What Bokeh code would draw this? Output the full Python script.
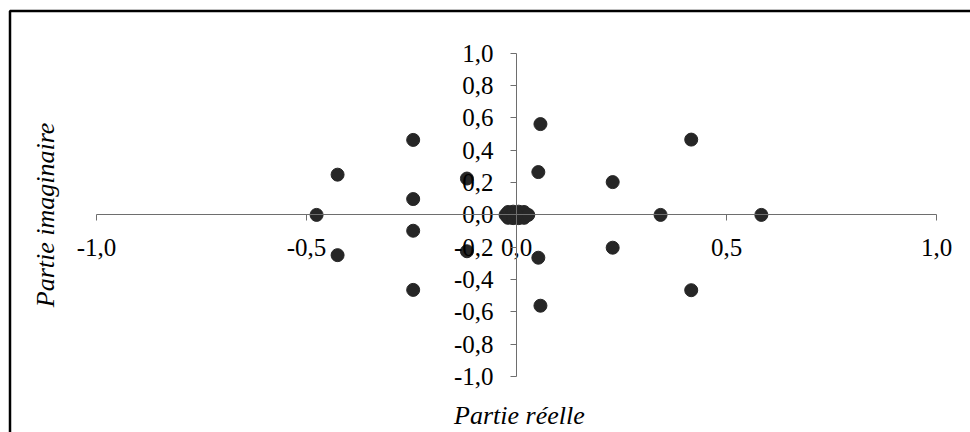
from bokeh.plotting import figure
from bokeh.models import (Range1d, FixedTicker, Label, PolyAnnotation,
                          ColumnDataSource)
from bokeh.core.properties import value
from bokeh.embed import file_html
from bokeh.resources import INLINE

# ---- data ----
real = [-0.476, -0.426, -0.426, -0.246, -0.246, -0.246, -0.246, -0.118, -0.118,
        0.057, 0.052, 0.052, 0.057, 0.229, 0.229, 0.343, 0.416, 0.416, 0.583,
        -0.026, -0.020, -0.020, -0.008, -0.008, 0.005, 0.005, 0.018, 0.018, 0.028, 0.0]
imag = [0.0, 0.249, -0.249, 0.464, 0.098, -0.098, -0.464, 0.225, -0.225,
        0.562, 0.265, -0.265, -0.562, 0.203, -0.203, 0.0, 0.466, -0.466, 0.0,
        0.0, 0.018, -0.018, 0.020, -0.020, 0.020, -0.020, 0.018, -0.018, 0.0, 0.0]
x_ticks = [-1.0, -0.5, 0.0, 0.5, 1.0]
x_tick_labels = ["-1,0", "-0,5", "0,0", "0,5", "1,0"]
y_ticks = [-1.0, -0.8, -0.6, -0.4, -0.2, 0.0, 0.2, 0.4, 0.6, 0.8, 1.0]
y_tick_labels = ["-1,0", "-0,8", "-0,6", "-0,4", "-0,2", "0,0",
                 "0,2", "0,4", "0,6", "0,8", "1,0"]
x_title = "Partie réelle"
y_title = "Partie imaginaire"

FONT = "Liberation Serif"
AXIS_COLOR = "#6e6e6e"

p = figure(width=970, height=432, output_backend="svg", toolbar_location=None,
           x_range=Range1d(-516 / 420, 454 / 420),
           y_range=Range1d(-(432 - 214.4) / 161.6, 214.4 / 161.6),
           min_border=0, min_border_left=0, min_border_right=0,
           min_border_top=0, min_border_bottom=0)
p.outline_line_color = None
p.xgrid.visible = False
p.ygrid.visible = False
p.background_fill_color = "white"
p.border_fill_color = "white"

for ax, ticks in ((p.xaxis, x_ticks), (p.yaxis, y_ticks)):
    ax.fixed_location = 0
    ax.bounds = (-1, 1)
    ax.ticker = FixedTicker(ticks=ticks)
    ax.axis_line_color = AXIS_COLOR
    ax.axis_line_width = 1
    ax.major_tick_line_color = AXIS_COLOR
    ax.major_tick_in = 0
    ax.major_tick_out = 6
    ax.minor_tick_line_color = None
    ax.major_label_text_font_size = "0px"
    ax.major_label_text_alpha = 0

src = ColumnDataSource(data=dict(x=real, y=imag))
p.scatter("x", "y", source=src, size=13, fill_color="#262626",
          line_color="#262626", marker="circle")

# tick labels (drawn over the points, as in the reference)
xt = ColumnDataSource(data=dict(x=x_ticks, y=[0.0] * len(x_ticks), t=x_tick_labels))
yt = ColumnDataSource(data=dict(x=[0.0] * len(y_ticks), y=y_ticks, t=y_tick_labels))
p.text(x="x", y="y", text="t", source=xt, text_font=value(FONT),
       text_font_size="25px", text_align="center", text_baseline="middle",
       y_offset=33, text_color="black")
p.text(x="x", y="y", text="t", source=yt, text_font=value(FONT),
       text_font_size="25px", text_align="right", text_baseline="middle",
       x_offset=-23, y_offset=0, text_color="black")

# axis titles
p.add_layout(Label(x=0.007, y=-(415 - 214.4) / 161.6, text=x_title, text_font=FONT,
                   text_font_size="26px", text_font_style="italic",
                   text_align="center", text_baseline="middle", text_color="black"))
p.add_layout(Label(x=-1.121, y=0.0, text=y_title, text_font=FONT,
                   text_font_size="26px", text_font_style="italic", angle=1.5707963,
                   text_align="center", text_baseline="middle", text_color="black"))

# chart border (only its left and top edges are inside the window)
bl = (9.5 - 516) / 420
bt = (214.4 - 10.5) / 161.6
p.add_layout(PolyAnnotation(xs=[bl, bl, 3.0, 3.0], ys=[-3.0, bt, bt, -3.0],
                            fill_alpha=0, line_color="black", line_alpha=1.0,
                            line_width=2.5))

open("out.html", "w").write(file_html(p, INLINE))
